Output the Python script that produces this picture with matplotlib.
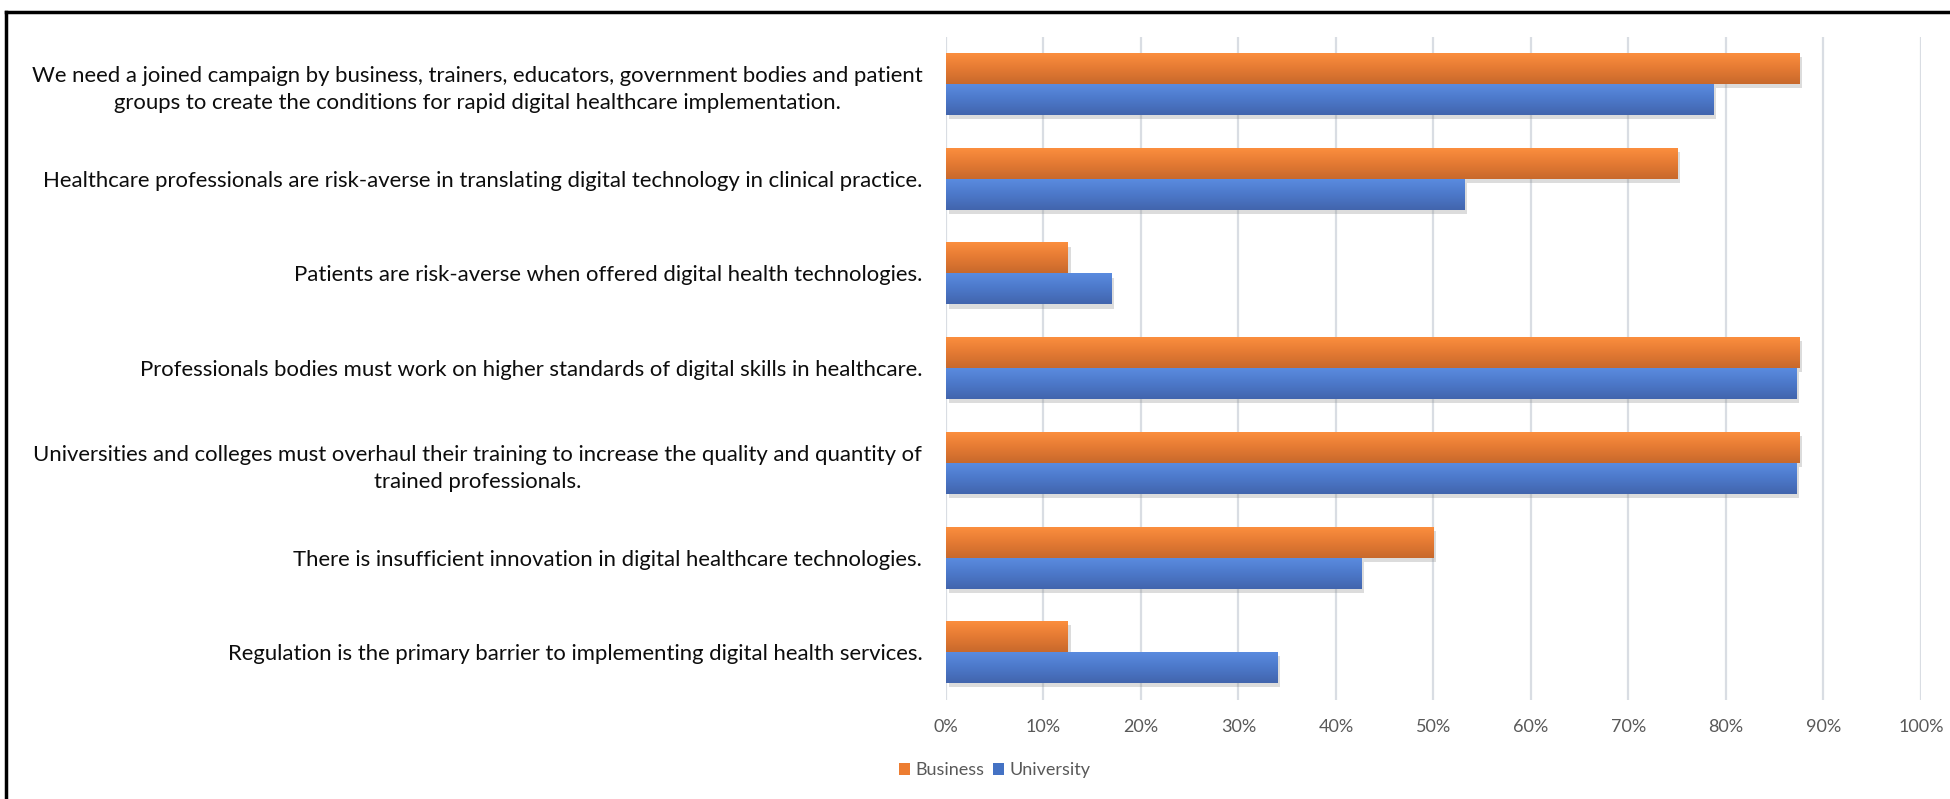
import numpy as np
import matplotlib
matplotlib.use("Agg")
import matplotlib.pyplot as plt
import matplotlib.patheffects as pe
from matplotlib.patches import Patch
from matplotlib.colors import LinearSegmentedColormap

statements = [
    "We need a joined campaign by business, trainers, educators, government bodies and patient\n"
    "groups to create the conditions for rapid digital healthcare implementation.",
    "Healthcare professionals are risk-averse in translating digital technology in clinical practice.",
    "Patients are risk-averse when offered digital health technologies.",
    "Professionals bodies must work on higher standards of digital skills in healthcare.",
    "Universities and colleges must overhaul their training to increase the quality and quantity of\n"
    "trained professionals.",
    "There is insufficient innovation in digital healthcare technologies.",
    "Regulation is the primary barrier to implementing digital health services.",
]
business = [87.5, 75.0, 12.5, 87.5, 87.5, 50.0, 12.5]
university = [78.7, 53.2, 17.0, 87.2, 87.2, 42.6, 34.0]
ticks = [0, 10, 20, 30, 40, 50, 60, 70, 80, 90, 100]

plt.rcParams['font.family'] = ['Lato', 'DejaVu Sans']

fig = plt.figure(figsize=(19.5, 7.99), dpi=100)
ax = fig.add_axes([0.4851, 0.1244, 0.5, 0.8298])

orange_cmap = LinearSegmentedColormap.from_list('o', ['#C8692C', '#E47A33', '#FB8E3E'])
blue_cmap = LinearSegmentedColormap.from_list('b', ['#4265AD', '#4C78C9', '#5A8BDF'])

y = np.arange(len(statements))
h = 0.327
shadow = [pe.SimplePatchShadow(offset=(2, -3), shadow_rgbFace='#8c8c8c', alpha=0.3), pe.Normal()]
bars_b = ax.barh(y - h / 2, business, height=h, color='#ED7D31', zorder=2, path_effects=shadow)
bars_u = ax.barh(y + h / 2, university, height=h, color='#4472C4', zorder=2, path_effects=shadow)

# Vertical gradient on each bar (light at top, darker at bottom)
grad = np.linspace(0, 1, 64).reshape(-1, 1)
for bars, cmap in [(bars_b, orange_cmap), (bars_u, blue_cmap)]:
    for r in bars:
        x0, y0 = r.get_x(), r.get_y()
        w, hh = r.get_width(), r.get_height()
        # y axis inverted: y0 is the top edge on screen
        ax.imshow(grad[::-1], cmap=cmap, aspect='auto', zorder=3,
                  extent=[x0, x0 + w, y0 + hh, y0], interpolation='bilinear')

ax.set_xlim(0, 100)
ax.set_ylim(len(statements) - 0.5, -0.5)
ax.set_xticks(ticks)
ax.set_xticklabels([f"{t}%" for t in ticks], fontsize=13, color='#595959')
ax.set_yticks(y)
ax.set_yticklabels(statements, fontsize=15.9, color='#0d0d0d',
                   multialignment='center', linespacing=1.45)
ax.tick_params(axis='both', length=0)
ax.tick_params(axis='x', pad=14)
ax.tick_params(axis='y', pad=17)
ax.grid(axis='x', color='#D9DDE3', linewidth=1.6, zorder=0)
ax.set_axisbelow(True)
for s in ax.spines.values():
    s.set_visible(False)

handles = [Patch(facecolor='#ED7D31', label='Business'),
           Patch(facecolor='#4472C4', label='University')]
fig.legend(handles=handles, loc='center', bbox_to_anchor=(0.51, 0.036), ncol=2,
           frameon=False, fontsize=13, handlelength=0.6, handleheight=0.6,
           handletextpad=0.3, columnspacing=0.5, labelcolor='#595959')

# outer frame (left and top edges visible)
fig.add_artist(plt.Line2D([0.003, 0.003], [0, 0.985], color='black', linewidth=2.5,
                          transform=fig.transFigure))
fig.add_artist(plt.Line2D([0.003, 1.0], [0.985, 0.985], color='black', linewidth=2.5,
                          transform=fig.transFigure))

fig.savefig('out.png', dpi=100, facecolor='white')
